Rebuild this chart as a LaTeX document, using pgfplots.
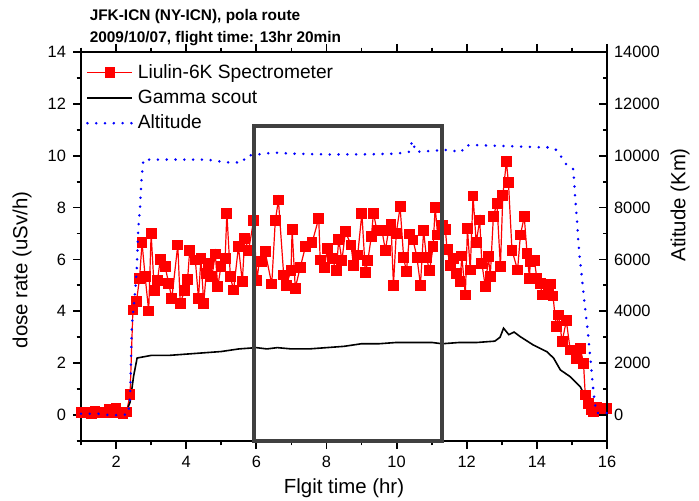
\documentclass[border=0pt]{standalone}
\usepackage{pgfplots}
\usepackage{pgfplotstable}
\pgfplotsset{compat=1.18}
\usepackage{fontspec}
\setmainfont{Liberation Sans}
\definecolor{boxgray}{HTML}{404040}

% Liulin-6K spectrometer, dose rate (uSv/h)
\pgfplotstableread{
t d
1.0 0.10
1.1 0.08
1.2 0.12
1.3 0.05
1.4 0.15
1.5 0.10
1.6 0.12
1.7 0.08
1.8 0.20
1.9 0.10
2.0 0.25
2.1 0.10
2.2 0.05
2.3 0.12
2.4 0.80
2.48 4.05
2.58 4.37
2.67 5.27
2.74 6.65
2.83 5.33
2.93 4.01
3.0 7.0
3.09 4.8
3.18 5.18
3.26 6.0
3.4 5.72
3.5 5.08
3.59 4.5
3.76 6.56
3.83 4.31
3.95 4.79
4.04 5.23
4.1 6.36
4.26 5.98
4.35 4.5
4.42 6.04
4.5 4.31
4.57 5.46
4.64 5.85
4.73 5.33
4.83 6.21
4.9 4.95
4.99 5.72
5.11 6.04
5.16 7.78
5.26 5.33
5.35 4.82
5.49 6.49
5.6 5.14
5.67 6.81
5.78 6.36
5.92 7.49
6.02 5.2
6.08 5.91
6.16 5.91
6.25 6.3
6.44 5.05
6.54 7.49
6.63 8.29
6.78 5.4
6.85 5.01
6.99 5.57
7.02 7.17
7.11 4.89
7.25 5.69
7.4 6.49
7.59 6.65
7.78 7.59
7.82 5.98
7.94 5.69
8.03 6.43
8.16 6.04
8.28 5.57
8.35 6.78
8.44 5.95
8.54 7.07
8.7 6.56
8.77 5.78
8.89 6.17
9.01 7.78
9.11 5.49
9.18 5.95
9.28 6.9
9.34 7.78
9.44 7.11
9.58 7.13
9.68 6.36
9.77 7.11
9.84 7.37
9.91 5.01
9.99 7.0
10.1 8.03
10.2 6.08
10.28 5.53
10.37 6.98
10.47 6.75
10.58 6.08
10.68 5.01
10.77 7.11
10.85 6.08
10.94 5.57
11.04 6.49
11.1 8.01
11.17 6.94
11.3 7.3
11.39 7.16
11.44 6.39
11.53 5.78
11.62 6.04
11.7 5.46
11.81 5.14
11.86 6.13
11.96 4.63
12.02 7.2
12.1 5.59
12.18 8.45
12.27 6.65
12.37 7.52
12.43 5.85
12.53 4.95
12.62 6.1
12.67 5.33
12.76 7.67
12.86 8.16
12.96 5.72
13.03 8.48
13.13 9.77
13.19 8.96
13.29 6.36
13.45 5.59
13.53 6.94
13.64 7.65
13.72 6.24
13.79 5.27
13.81 5.91
13.93 5.95
14.0 5.27
14.1 5.08
14.15 4.63
14.27 5.05
14.33 5.01
14.38 5.05
14.46 4.59
14.55 3.41
14.62 3.86
14.72 2.83
14.84 3.64
14.95 2.51
15.14 2.19
15.24 2.57
15.33 2.0
15.38 0.77
15.47 0.45
15.55 0.20
15.62 0.13
15.7 0.30
15.8 0.25
15.9 0.26
16.0 0.25
}\liulin

% Gamma scout, dose rate (uSv/h)
\pgfplotstableread{
t d
1.0 0.12
1.5 0.12
2.0 0.12
2.3 0.15
2.4 0.5
2.5 1.5
2.6 2.2
2.8 2.25
3.0 2.3
3.5 2.3
4.0 2.35
4.5 2.4
5.0 2.45
5.5 2.55
6.0 2.6
6.3 2.55
6.6 2.6
7.0 2.55
7.5 2.55
8.0 2.6
8.5 2.65
9.0 2.75
9.5 2.75
10.0 2.8
10.5 2.8
11.0 2.8
11.3 2.75
11.8 2.8
12.3 2.8
12.8 2.85
12.95 3.0
13.05 3.35
13.2 3.1
13.35 3.2
13.53 3.02
13.9 2.7
14.29 2.44
14.48 2.19
14.67 1.74
14.95 1.48
15.24 1.09
15.43 0.58
15.57 0.17
16.0 0.17
}\gamma

% Altitude
\pgfplotstableread{
t a
1.0 50
1.5 50
1.8 0
2.0 0
2.2 0
2.35 50
2.4 700
2.45 3450
2.54 4700
2.59 5600
2.63 7150
2.68 7900
2.71 8700
2.73 9150
2.78 9850
3.0 9850
4.0 9850
4.6 9850
5.15 9740
5.6 9740
5.72 10000
6.1 10060
6.48 10120
7.0 10080
8.0 10050
9.0 10050
10.0 10080
10.35 10150
10.45 10570
10.55 10150
11.0 10190
11.4 10220
11.85 10150
11.95 10390
12.23 10410
13.0 10380
14.0 10330
14.37 10320
14.56 10220
14.66 10030
14.85 9640
15.04 9480
15.06 9060
15.09 8420
15.12 7900
15.15 7400
15.18 6750
15.22 6100
15.27 5480
15.32 4820
15.37 4180
15.42 3600
15.45 3280
15.48 2830
15.51 2390
15.54 2000
15.57 1540
15.61 960
15.66 390
15.71 80
16.0 80
}\altitude

\begin{document}
\begin{tikzpicture}
\useasboundingbox (-40.5pt,-30pt) rectangle (309pt,220.5pt);
\pgfplotsset{
  every axis/.append style={
    scale only axis, width=263pt, height=194.5pt,
    at={(0pt,0pt)}, anchor=south west,
    xmin=1, xmax=16,
    axis line style={line width=0.9pt, black},
    every tick/.style={line width=0.9pt, black},
    major tick length=4pt, minor tick length=2.2pt,
    tick label style={font=\fontsize{8.2}{9}\selectfont},
    label style={font=\fontsize{10.2}{12}\selectfont},
    /pgf/number format/assume math mode=true,
    clip=false,
  }
}
\begin{axis}[
  ymin=-1, ymax=14,
  xtick={2,4,...,16}, minor xtick={1,3,...,15},
  ytick={0,2,...,14}, minor ytick={-1,1,...,13},
  ytick pos=left, xtick pos=both, xticklabel pos=bottom,
  tick align=outside,
  xlabel={Flgit time (hr)},
  ylabel={dose rate (uSv/h)},
  xlabel style={at={(axis description cs:0.5,-0.121)}, anchor=center},
  ylabel style={at={(axis description cs:-0.112,0.44)}, anchor=center},
]
\addplot[red, line width=0.6pt, mark=square*, mark size=2.4pt,
  mark options={fill=red, draw=red}] table[x=t, y=d] {\liulin};
\addplot[black, line width=0.8pt] table[x=t, y=d] {\gamma};
\end{axis}
\begin{axis}[
  ymin=-1000, ymax=14000,
  axis y line*=right, axis x line=none,
  ytick={0,2000,...,14000}, minor ytick={-1000,1000,...,13000},
  tick align=inside,
  scaled y ticks=false,
  yticklabel style={/pgf/number format/fixed, /pgf/number format/set thousands separator={}},
  ylabel={Atitude (Km)},
  ylabel style={at={(axis description cs:1.139,0.607)}, anchor=center},
  legend style={draw=none, fill=none, at={(axis description cs:0.005,0.985)},
    anchor=north west, font=\fontsize{9.6}{11}\selectfont, row sep=0.3pt,
    inner sep=1pt},
  legend cell align=left,
  legend image code/.code={\draw[mark repeat=2,mark phase=2]
    plot coordinates {(0pt,0pt) (11.25pt,0pt) (22.5pt,0pt)};},
]
\addlegendimage{red, line width=0.6pt, mark=square*, mark size=2.4pt, mark options={fill=red, draw=red}}
\addlegendentry{Liulin-6K Spectrometer}
\addlegendimage{black, line width=0.8pt}
\addlegendentry{Gamma scout}
\addplot[blue, line width=1.4pt, line cap=round, dash pattern=on 0pt off 4.4pt]
  table[x=t, y=a] {\altitude};
\addlegendentry{Altitude}
\draw[boxgray, line width=2pt] (axis cs:5.92,-1000) rectangle (axis cs:11.29,11150);
\end{axis}
\node[anchor=base west, font=\bfseries\fontsize{7.7}{9}\selectfont] at (0.85pt,210pt) {JFK-ICN (NY-ICN), pola route};
\node[anchor=base west, font=\bfseries\fontsize{7.7}{9}\selectfont] at (0.85pt,199pt) {2009/10/07, flight time: 13hr 20min};
\end{tikzpicture}
\end{document}
